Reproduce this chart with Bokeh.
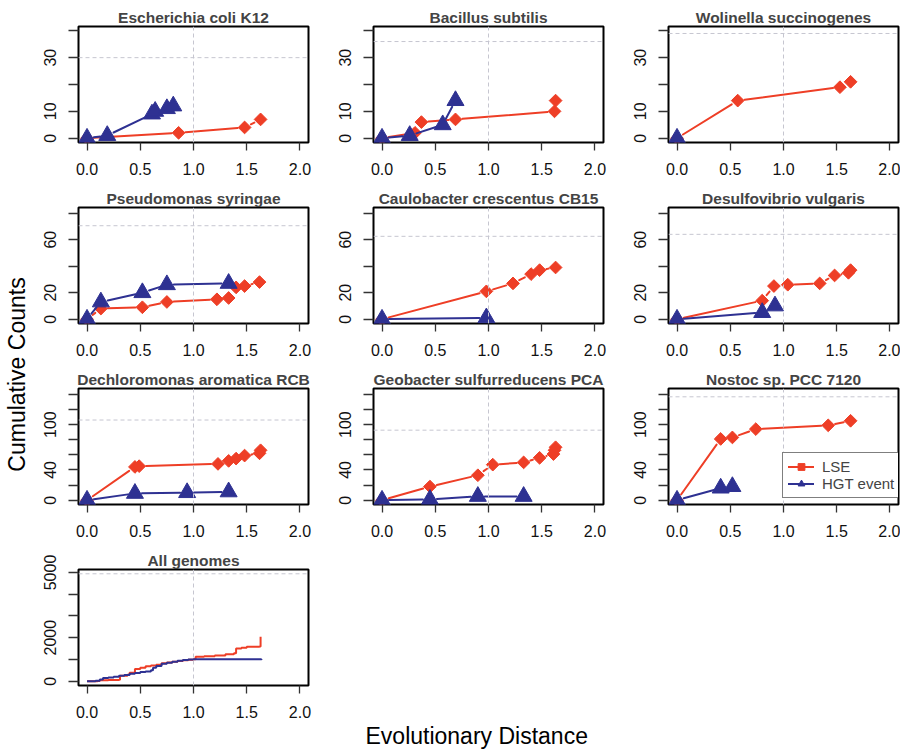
import math
from bokeh.plotting import figure
from bokeh.models import Span, FixedTicker, NumeralTickFormatter, Legend, LegendItem, Range1d, Title
from bokeh.layouts import row, column
from bokeh.embed import file_html
from bokeh.resources import INLINE
from bokeh.core.properties import value

# ------------------------------------------------------------------ data
ecoli_lse_x = [0, 0.86, 1.48, 1.63]
ecoli_lse_y = [0, 2, 4, 7]
ecoli_hgt_x = [0, 0.19, 0.61, 0.64, 0.75, 0.81]
ecoli_hgt_y = [0, 1, 9, 10, 11, 12]

bsub_lse_x = [0, 0.31, 0.37, 0.69, 1.62, 1.63]
bsub_lse_y = [0, 2, 6, 7, 10, 14]
bsub_hgt_x = [0, 0.26, 0.57, 0.69]
bsub_hgt_y = [0, 1, 5, 14]

wsuc_lse_x = [0, 0.57, 1.53, 1.63]
wsuc_lse_y = [0, 14, 19, 21]
wsuc_hgt_x = [0]
wsuc_hgt_y = [0]

psyr_lse_x = [0, 0.13, 0.52, 0.75, 1.22, 1.33, 1.40, 1.48, 1.62]
psyr_lse_y = [0, 8, 9, 13, 15, 16, 24, 25, 28]
psyr_hgt_x = [0, 0.13, 0.52, 0.75, 1.33]
psyr_hgt_y = [0, 13, 20, 26, 27]

ccre_lse_x = [0, 0.98, 1.23, 1.40, 1.48, 1.63]
ccre_lse_y = [0, 21, 27, 34, 37, 39]
ccre_hgt_x = [0, 0.98]
ccre_hgt_y = [0, 1]

dvul_lse_x = [0, 0.80, 0.91, 1.04, 1.34, 1.48, 1.61, 1.63]
dvul_lse_y = [0, 14, 25, 26, 27, 33, 35, 37]
dvul_hgt_x = [0, 0.80, 0.92]
dvul_hgt_y = [0, 5, 10]

daro_lse_x = [0, 0.45, 0.49, 1.23, 1.33, 1.40, 1.48, 1.62, 1.63]
daro_lse_y = [0, 44, 45, 48, 52, 55, 59, 62, 66]
daro_hgt_x = [0, 0.45, 0.94, 1.33]
daro_hgt_y = [0, 9, 10, 11]

gsul_lse_x = [0, 0.45, 0.90, 1.04, 1.33, 1.48, 1.61, 1.62, 1.63]
gsul_lse_y = [0, 18, 33, 47, 50, 56, 61, 66, 70]
gsul_hgt_x = [0, 0.45, 0.90, 1.33]
gsul_hgt_y = [0, 1, 5, 5]

nost_lse_x = [0, 0.41, 0.52, 0.74, 1.42, 1.63]
nost_lse_y = [0, 81, 83, 94, 99, 105]
nost_hgt_x = [0, 0.41, 0.52]
nost_hgt_y = [0, 16, 18]

allg_lse_x = [0, 0.10, 0.12, 0.20, 0.30, 0.31, 0.38, 0.40, 0.45, 0.50, 0.55, 0.60,
              0.65, 0.70, 0.75, 0.80, 0.85, 0.90, 0.95, 1.00, 1.02, 1.10, 1.20,
              1.30, 1.38, 1.40, 1.45, 1.50, 1.62, 1.63]
allg_lse_y = [0, 10, 40, 60, 70, 250, 300, 390, 560, 620, 690, 720,
              760, 830, 860, 890, 930, 960, 990, 1010, 1120, 1150, 1180,
              1240, 1290, 1500, 1540, 1580, 1600, 2050]
allg_hgt_x = [0, 0.08, 0.12, 0.15, 0.20, 0.25, 0.30, 0.35, 0.40, 0.45, 0.50, 0.55,
              0.60, 0.62, 0.65, 0.70, 0.75, 0.80, 0.85, 0.90, 0.95, 1.00, 1.64]
allg_hgt_y = [0, 20, 80, 150, 170, 200, 250, 290, 340, 380, 420, 450,
              500, 620, 700, 800, 850, 900, 940, 970, 1000, 1005, 1020]

panel_titles = ["Escherichia coli K12", "Bacillus subtilis", "Wolinella succinogenes",
                "Pseudomonas syringae", "Caulobacter crescentus CB15", "Desulfovibrio vulgaris",
                "Dechloromonas aromatica RCB", "Geobacter sulfurreducens PCA", "Nostoc sp. PCC 7120",
                "All genomes"]
panel_series = [
    (ecoli_lse_x, ecoli_lse_y, ecoli_hgt_x, ecoli_hgt_y),
    (bsub_lse_x, bsub_lse_y, bsub_hgt_x, bsub_hgt_y),
    (wsuc_lse_x, wsuc_lse_y, wsuc_hgt_x, wsuc_hgt_y),
    (psyr_lse_x, psyr_lse_y, psyr_hgt_x, psyr_hgt_y),
    (ccre_lse_x, ccre_lse_y, ccre_hgt_x, ccre_hgt_y),
    (dvul_lse_x, dvul_lse_y, dvul_hgt_x, dvul_hgt_y),
    (daro_lse_x, daro_lse_y, daro_hgt_x, daro_hgt_y),
    (gsul_lse_x, gsul_lse_y, gsul_hgt_x, gsul_hgt_y),
    (nost_lse_x, nost_lse_y, nost_hgt_x, nost_hgt_y),
    (allg_lse_x, allg_lse_y, allg_hgt_x, allg_hgt_y),
]
total_lines = [30, 36, 39, 70.5, 62.5, 64, 106, 92.6, 136.7, 4940]
row_ymax = [40, 81, 142, 4940]
row_yticks = [[0, 10, 20, 30, 40],
              [0, 20, 40, 60, 80],
              [0, 20, 40, 60, 80, 100, 120, 140],
              [0, 1000, 2000, 3000, 4000, 5000]]
row_ylabels = [[0, 10, 30], [0, 20, 60], [0, 40, 100], [0, 2000, 5000]]
x_ticks = [0, 0.5, 1.0, 1.5, 2.0]
x_lim = (0, 2)
series_names = ["LSE", "HGT event"]
y_title = "Cumulative Counts"
x_title = "Evolutionary Distance"

# ------------------------------------------------------------------ style / layout
RED = "#EE3E26"
BLUE = "#2E3192"
GRAY = "#C6C6D0"
FONT = "Liberation Sans"
FW, FH = 230, 116
B_LEFT = 48
LEFT_W = 30
COL_W = [293, 295, 282]
ROW_TOP = [26, 26, 26, 26]
ROW_H = [181, 181, 181, 207]
GAP = 7.0


def ext(lo, hi):
    d = (hi - lo) * 0.04
    return lo - d, hi + d


def gapped(xs, ys, sx, sy, gap):
    """R type='b' style: segments stop short of the points."""
    out = dict(x0=[], y0=[], x1=[], y1=[])
    for i in range(len(xs) - 1):
        dx = xs[i + 1] - xs[i]
        dy = ys[i + 1] - ys[i]
        L = math.hypot(dx * sx, dy * sy)
        if L > 2 * gap:
            f = gap / L
            out["x0"].append(xs[i] + f * dx)
            out["y0"].append(ys[i] + f * dy)
            out["x1"].append(xs[i + 1] - f * dx)
            out["y1"].append(ys[i + 1] - f * dy)
    return out


def make_panel(k):
    r, c = divmod(k, 3)
    xr = ext(*x_lim)
    yr = ext(0, row_ymax[r])
    width = COL_W[c] if k < 9 else sum(COL_W)
    b_left = B_LEFT if c == 0 else 50
    b_right = width - b_left - FW
    b_top = ROW_TOP[r]
    b_bottom = ROW_H[r] - b_top - FH
    p = figure(width=width, height=ROW_H[r],
               min_border_left=b_left, min_border_right=b_right,
               min_border_top=b_top, min_border_bottom=b_bottom,
               x_range=Range1d(*xr), y_range=Range1d(*yr),
               toolbar_location=None, output_backend="svg", title=panel_titles[k])
    p.background_fill_color = "white"
    p.border_fill_color = "white"
    p.outline_line_color = "black"
    p.outline_line_width = 2
    p.grid.visible = False
    p.title.text_font = FONT
    p.title.text_font_size = "15.5px"
    p.title.text_font_style = "bold"
    p.title.align = "center"
    p.title.standoff = 1

    for ax in (p.xaxis[0], p.yaxis[0]):
        ax.axis_line_color = None
        ax.major_tick_line_color = "#333333"
        ax.major_tick_line_width = 1.3
        ax.major_tick_in = 0
        ax.minor_tick_line_color = None
        ax.major_label_text_font = FONT
        ax.major_label_text_font_size = "16px"
        ax.major_label_text_color = "#111111"
    p.xaxis[0].ticker = FixedTicker(ticks=x_ticks)
    p.xaxis[0].formatter = NumeralTickFormatter(format="0.0")
    p.xaxis[0].major_tick_out = 8
    p.xaxis[0].major_label_standoff = 12
    p.yaxis[0].ticker = FixedTicker(ticks=row_yticks[r])
    p.yaxis[0].major_label_overrides = {t: "" for t in row_yticks[r] if t not in row_ylabels[r]}
    p.yaxis[0].major_label_orientation = "vertical"
    p.yaxis[0].major_tick_out = 10
    p.yaxis[0].major_label_standoff = 12

    p.add_layout(Span(location=1.0, dimension="height", line_color=GRAY,
                      line_dash="4 3", line_width=1))
    p.add_layout(Span(location=total_lines[k], dimension="width", line_color=GRAY,
                      line_dash="4 3", line_width=1))

    lx, ly, hx, hy = panel_series[k]
    rends = {}
    if k == 9:
        rends["lse_line"] = p.step(lx, ly, mode="after", line_color=RED, line_width=2)
        rends["hgt_line"] = p.step(hx, hy, mode="after", line_color=BLUE, line_width=2)
        # outer x-axis title: a title below the last panel, shifted right to the page centre
        xt = Title(text=x_title, align="left", offset=287,
                   text_font=FONT, text_font_size="23px", text_font_style="normal",
                   text_color="black", standoff=0)
        p.add_layout(xt, "below")
    else:
        sx = FW / (xr[1] - xr[0])
        sy = FH / (yr[1] - yr[0])
        rs = gapped(lx, ly, sx, sy, GAP)
        rends["lse_line"] = p.segment(x0=rs["x0"], y0=rs["y0"], x1=rs["x1"], y1=rs["y1"],
                                      line_color=RED, line_width=2, line_cap="round")
        rends["lse_pts"] = p.scatter(lx, ly, marker="square", angle=math.pi / 4, size=9,
                                     fill_color=RED, line_color=RED)
        bs = gapped(hx, hy, sx, sy, GAP)
        rends["hgt_line"] = p.segment(x0=bs["x0"], y0=bs["y0"], x1=bs["x1"], y1=bs["y1"],
                                      line_color=BLUE, line_width=2, line_cap="round")
        rends["hgt_pts"] = p.scatter(hx, hy, marker="triangle", size=17,
                                     fill_color=BLUE, line_color=BLUE)
    if k == 8:
        legend = Legend(items=[
            LegendItem(label=series_names[0], renderers=[rends["lse_line"], rends["lse_pts"]]),
            LegendItem(label=series_names[1], renderers=[rends["hgt_line"], rends["hgt_pts"]]),
        ], location=(114, 6))
        legend.border_line_color = "black"
        legend.border_line_width = 1.5
        legend.background_fill_alpha = 1.0
        legend.label_text_font = FONT
        legend.label_text_font_size = "15px"
        legend.glyph_width = 26
        legend.glyph_height = 17
        legend.label_standoff = 8
        legend.padding = 5
        legend.spacing = 0
        legend.margin = 0
        p.add_layout(legend)
    return p


panels = [make_panel(k) for k in range(10)]

TOTAL_H = sum(ROW_H)
left_fig = figure(width=LEFT_W, height=TOTAL_H, x_range=Range1d(0, LEFT_W), y_range=Range1d(0, TOTAL_H),
                  x_axis_type=None, y_axis_type=None, toolbar_location=None,
                  output_backend="svg", min_border=0, title=None)
left_fig.outline_line_color = None
left_fig.grid.visible = False
left_fig.text(x=[16], y=[TOTAL_H - 374], text=[y_title], angle=math.pi / 2,
              text_align="center", text_baseline="middle",
              text_font=value(FONT), text_font_size="23px", text_color="black")

grid = column(row(*panels[0:3]), row(*panels[3:6]), row(*panels[6:9]), panels[9])
layout = row(left_fig, grid)

open("out.html", "w").write(file_html(layout, INLINE))
